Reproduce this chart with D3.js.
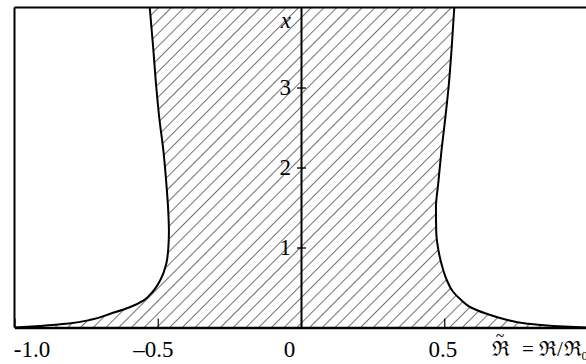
<!DOCTYPE html>
<html>
<head>
<meta charset="utf-8">
<script src="https://cdn.jsdelivr.net/npm/d3@7"></script>
<style>
  html, body { margin: 0; padding: 0; background: #fff; }
  svg { display: block; }
  text { font-family: "Liberation Serif", "DejaVu Serif", serif; fill: #000; }
</style>
</head>
<body>
<svg id="chart" width="586" height="364"></svg>
<script>
// ---- data ----
const xValues   = [0, 0.02, 0.05, 0.1, 0.175, 0.25, 0.34, 0.45, 0.6, 0.8, 1.0, 1.2, 1.5, 1.8, 2.2, 2.6, 3.0, 3.5, 4.0];
const rightEdge = [1.0, 0.88, 0.785, 0.714, 0.645, 0.593, 0.56, 0.53, 0.508, 0.49, 0.478, 0.472, 0.471, 0.479, 0.49, 0.503, 0.515, 0.526, 0.535];
const leftEdge  = [-1.0, -0.91, -0.81, -0.73, -0.663, -0.6, -0.549, -0.517, -0.49, -0.47, -0.463, -0.461, -0.464, -0.47, -0.48, -0.494, -0.505, -0.516, -0.528];
const xTicks = [-1.0, -0.5, 0, 0.5];
const xTickLabels = ["-1.0", "\u20130.5", "0", "0.5"];
const xLabelShift = [17, -5, -12, -2];
const yTicks = [1, 2, 3];
const yTickLabels = ["1", "2", "3"];
const xAxisTitleParts = ["\u211C", "=", "\u211C", "/", "\u211C", "\u2080"];
const yAxisTitle = "x";

const svg = d3.select("#chart");
const xScale = d3.scaleLinear().domain([-1, 1]).range([14.5, 587.5]);
const yScale = d3.scaleLinear().domain([0, 4]).range([327.5, 7.5]);

const rows = xValues.map((v, i) => ({x: v, l: leftEdge[i], r: rightEdge[i]}));

// hatch pattern
const defs = svg.append("defs");
const pat = defs.append("pattern")
  .attr("id", "hatch")
  .attr("patternUnits", "userSpaceOnUse")
  .attr("width", 9).attr("height", 9)
  .attr("patternTransform", "rotate(45)");
pat.append("line")
  .attr("x1", 0).attr("y1", -1).attr("x2", 0).attr("y2", 10)
  .attr("stroke", "#000").attr("stroke-width", 1.1);

const area = d3.area()
  .curve(d3.curveMonotoneY)
  .y(d => yScale(d.x))
  .x0(d => xScale(d.l))
  .x1(d => xScale(d.r));

svg.append("path")
  .datum(rows)
  .attr("d", area)
  .attr("fill", "url(#hatch)");

const lineL = d3.line().curve(d3.curveMonotoneY).x(d => xScale(d.l)).y(d => yScale(d.x));
const lineR = d3.line().curve(d3.curveMonotoneY).x(d => xScale(d.r)).y(d => yScale(d.x));
svg.append("path").datum(rows).attr("d", lineL)
  .attr("fill", "none").attr("stroke", "#000").attr("stroke-width", 2);
svg.append("path").datum(rows).attr("d", lineR)
  .attr("fill", "none").attr("stroke", "#000").attr("stroke-width", 2);

// frame: left border and top border
svg.append("line")
  .attr("x1", xScale(-1)).attr("x2", xScale(-1))
  .attr("y1", yScale(0)).attr("y2", yScale(4))
  .attr("stroke", "#000").attr("stroke-width", 2);
svg.append("line")
  .attr("x1", xScale(-1)).attr("x2", xScale(1))
  .attr("y1", yScale(4)).attr("y2", yScale(4))
  .attr("stroke", "#000").attr("stroke-width", 2);

// x axis
const xAxis = d3.axisBottom(xScale)
  .tickValues(xTicks)
  .tickFormat((d, i) => xTickLabels[i])
  .tickSizeInner(-9)
  .tickSizeOuter(0)
  .tickPadding(13);
const gx = svg.append("g")
  .attr("transform", `translate(0,${yScale(0)})`)
  .call(xAxis);
gx.select(".domain").attr("stroke", "#000").attr("stroke-width", 2.5);
gx.selectAll(".tick line").attr("stroke", "#000").attr("stroke-width", 1.2);
gx.selectAll(".tick text")
  .attr("font-size", 23)
  .attr("font-family", "Liberation Serif, serif")
  .attr("fill", "#000")
  .attr("dx", (d, i) => xLabelShift[i]);

// y axis at x = 0
const yAxis = d3.axisLeft(yScale)
  .tickValues(yTicks)
  .tickFormat((d, i) => yTickLabels[i])
  .tickSizeInner(-5)
  .tickSizeOuter(0)
  .tickPadding(10);
const gy = svg.append("g")
  .attr("transform", `translate(${xScale(0)},0)`)
  .call(yAxis);
gy.select(".domain").attr("stroke", "#000").attr("stroke-width", 2);
gy.selectAll(".tick line").attr("x1", -4).attr("x2", 5)
  .attr("stroke", "#000").attr("stroke-width", 1.3);
gy.selectAll(".tick text")
  .attr("font-size", 23)
  .attr("font-family", "Liberation Serif, serif")
  .attr("fill", "#000");

// axis titles
svg.append("text")
  .attr("x", xScale(0) - 10).attr("y", 28)
  .attr("text-anchor", "end")
  .attr("font-size", 23)
  .attr("font-style", "italic")
  .text(yAxisTitle);

const titleX = [492, 522, 539, 557, 564, 581];
const title = svg.append("text")
  .attr("y", 356)
  .attr("font-size", 21);
xAxisTitleParts.forEach((p, i) => {
  title.append("tspan").attr("x", titleX[i]).text(p);
});
// tilde over the first symbol
svg.append("text")
  .attr("x", 500).attr("y", 341)
  .attr("text-anchor", "middle")
  .attr("font-family", "DejaVu Serif, serif")
  .attr("font-size", 16)
  .text("~");
</script>
</body>
</html>
